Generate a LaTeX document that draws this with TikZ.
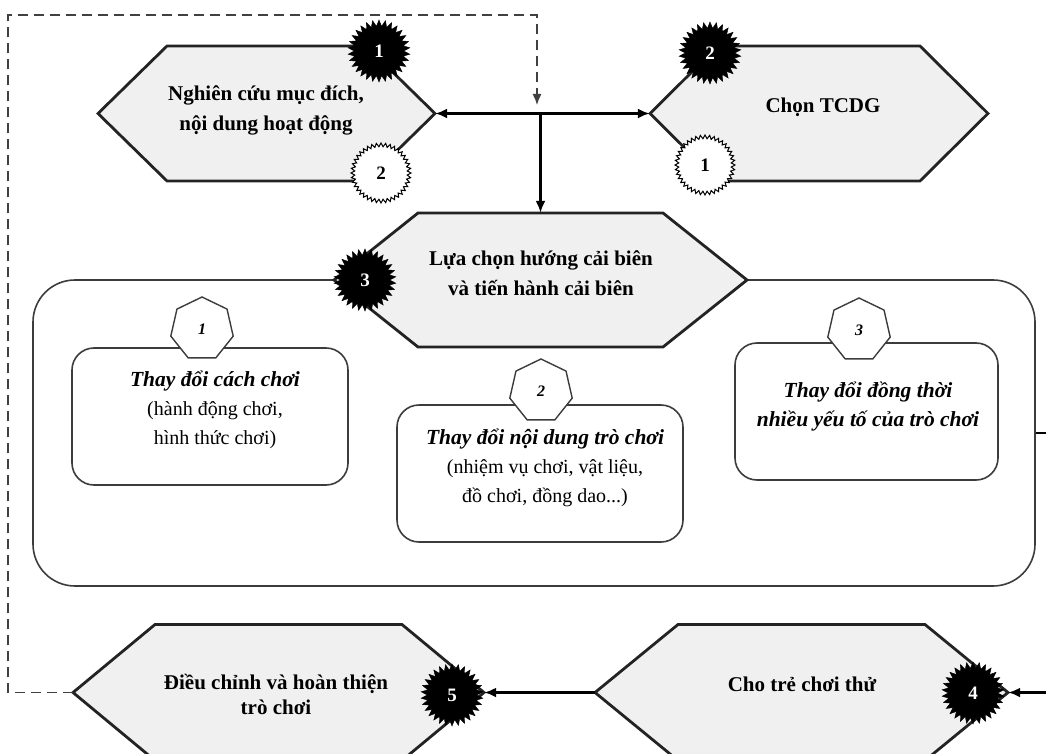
\documentclass[tikz,border=0pt]{standalone}
\usepackage{fontspec}
\setmainfont{Liberation Serif}
\usetikzlibrary{shapes.geometric,arrows.meta}
\definecolor{hexfill}{RGB}{240,240,240}
\definecolor{linec}{RGB}{35,35,35}
\definecolor{boxline}{RGB}{60,60,60}
\tikzset{
  hexline/.style={fill=hexfill, draw=linec, line width=2.8pt, line join=miter},
  hexnode/.style={draw=none, inner sep=0pt},
  hextext/.style={font=\fontsize{21}{30}\selectfont\bfseries, align=center, text=black},
  conn/.style={draw=black, line width=2.5pt, -{Latex[length=12pt,width=10pt]}},
  dashconn/.style={draw=black!75, line width=1.4pt, dash pattern=on 10pt off 6pt, -{Latex[length=11pt,width=9pt]}},
  bigbox/.style={draw=boxline, line width=1.6pt, rounded corners=42pt, inner sep=0pt},
  subbox/.style={draw=boxline, line width=1.6pt, rounded corners=22pt, fill=white, inner sep=0pt},
  subtext/.style={font=\fontsize{20}{29}\selectfont, align=center, text=black},
  hept/.style={regular polygon, regular polygon sides=7, minimum size=64pt, inner sep=0pt,
    fill=white, draw=boxline, line width=1.4pt, font=\fontsize{16}{16}\selectfont\bfseries\itshape},
  blackbadge/.style={star, star points=30, star point ratio=1.25, minimum size=62pt, inner sep=0pt,
    fill=black, draw=black, text=white, font=\fontsize{19}{19}\selectfont\bfseries},
  whitebadge/.style={star, star points=40, star point ratio=1.14, minimum size=60pt, inner sep=0pt,
    fill=white, draw=black, line width=1pt, text=black, font=\fontsize{19}{19}\selectfont\bfseries},
}
% name, cx, cy, half width, half height, point depth
\newcommand{\hexa}[6]{%
  \path[hexline] (#2-#4,#3) -- (#2-#4+#6,#3-#5) -- (#2+#4-#6,#3-#5) -- (#2+#4,#3)
    -- (#2+#4-#6,#3+#5) -- (#2-#4+#6,#3+#5) -- cycle;
  \node[hexnode, minimum width=2*#4, minimum height=2*#5] (#1) at (#2,#3) {};
}
\begin{document}
\begin{tikzpicture}[x=1pt,y=-1pt]
\useasboundingbox (0,0) rectangle (1046,754);
\clip (0,0) rectangle (1046,754);

% big container
\node[bigbox, minimum width=1002, minimum height=306] (box) at (534,433) {};

% hexagons
\hexa{h1}{266.5}{113.5}{168.5}{67.5}{69}
\node[hextext] (h1t) at (266,110) {Nghiên cứu mục đích,\\nội dung hoạt động};
\hexa{h2}{819}{113.5}{169}{67.5}{68}
\node[hextext] (h2t) at (823,107) {Chọn TCDG};
\hexa{h3}{540.5}{280}{206.5}{67}{84}
\node[hextext] (h3t) at (541,273) {Lựa chọn hướng cải biên\\và tiến hành cải biên};
\hexa{h4}{801.5}{692.5}{206.5}{68}{83}
\node[hextext] (h4t) at (802,684) {Cho trẻ chơi thử};
\hexa{h5}{278.5}{692.5}{205.5}{68}{82}
\node[hextext, font=\fontsize{21}{25}\selectfont\bfseries] (h5t) at (276,694) {Điều chỉnh và hoàn thiện\\trò chơi};

% sub boxes
\node[subbox, minimum width=276, minimum height=137] (sb1) at (210,416.5) {};
\node[subbox, minimum width=286, minimum height=137] (sb2) at (540,473.5) {};
\node[subbox, minimum width=263, minimum height=137] (sb3) at (866.5,411.5) {};
\node[hept] (p1) at (202,329) {1};
\node[hept] (p2) at (541,391) {2};
\node[hept] (p3) at (859,330) {3};
\node[subtext] (t1) at (215,410) {{\fontsize{21.5}{29}\selectfont\bfseries\itshape Thay đổi cách chơi}\\(hành động chơi,\\hình thức chơi)};
\node[subtext] (t2) at (545,468) {{\fontsize{21.5}{29}\selectfont\bfseries\itshape Thay đổi nội dung trò chơi}\\(nhiệm vụ chơi, vật liệu,\\đồ chơi, đồng dao...)};
\node[subtext, font=\fontsize{21.5}{29}\selectfont\bfseries\itshape] (t3) at (868,407) {Thay đổi đồng thời\\nhiều yếu tố của trò chơi};

% badges
\node[blackbadge] (b11) at (379,51) {1};
\node[whitebadge] (b12) at (381,173) {2};
\node[blackbadge] (b22) at (710,53) {2};
\node[whitebadge] (b21) at (705,165) {1};
\node[blackbadge] (b3) at (365,280) {3};
\node[blackbadge] (b4) at (973,693) {4};
\node[blackbadge] (b5) at (452,695) {5};

% connectors
\coordinate (J) at (540.5,113.5);
\coordinate (dtip) at (537,105);
\coordinate (dl) at (8,692.5);
\coordinate (dtl) at (8,15);
\coordinate (dtr) at (537,15);
\coordinate (rr) at (1070,433);
\draw[conn] (J) -- (h1.east);
\draw[conn] (J) -- (h2.west);
\draw[conn] (J) -- (h3.north);
\draw[conn] (box.east) -- (rr) |- (h4.east);
\draw[conn] (h4.west) -- (h5.east);
\draw[dashconn] (h5.west) -- (dl) -- (dtl) -- (dtr) -- (dtip);
\end{tikzpicture}
\end{document}
